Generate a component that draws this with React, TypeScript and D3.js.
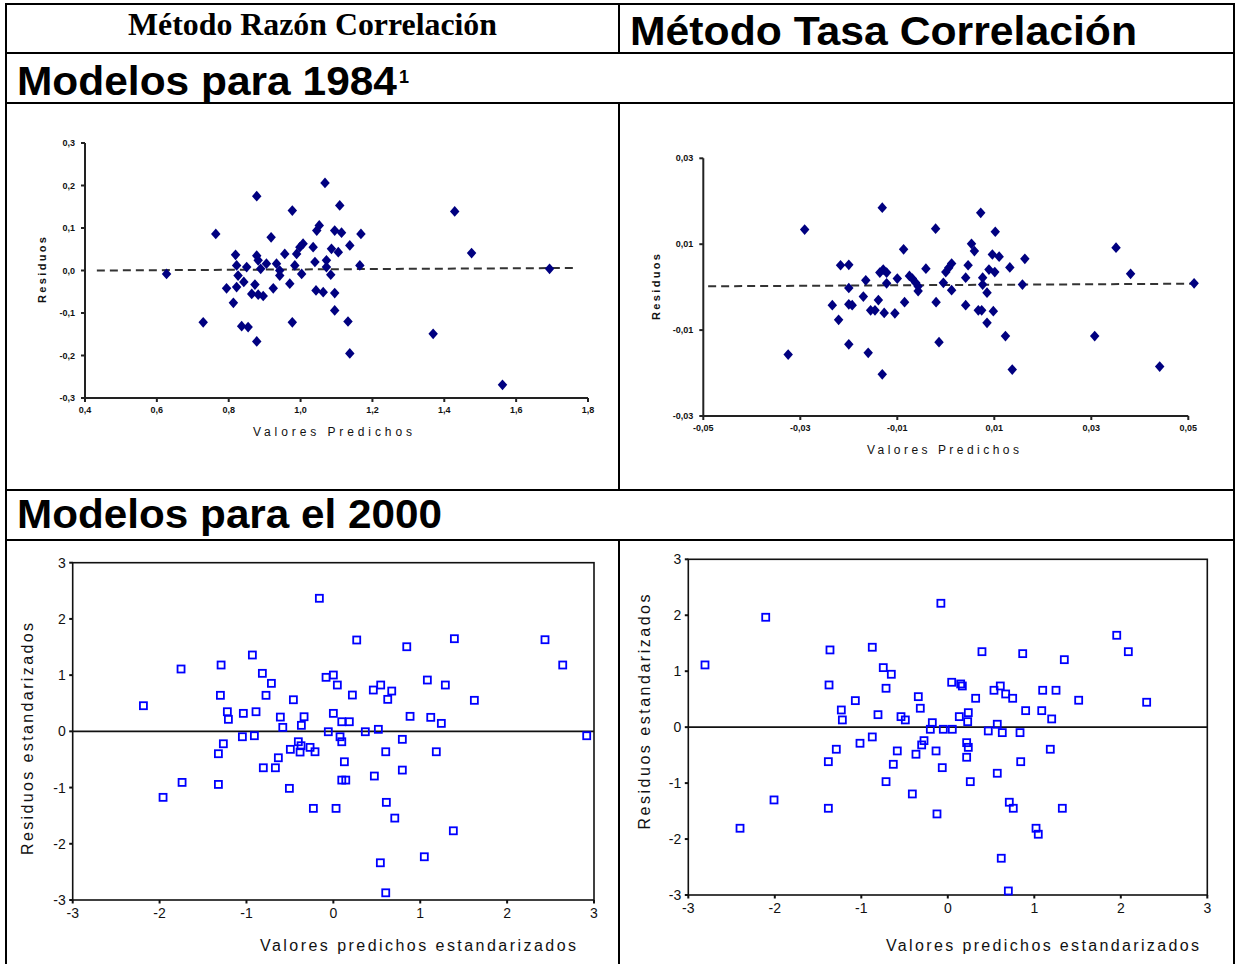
import React from "react";
import * as d3 from "d3";

type Pt = [number, number];

// Modelos 1984 - método razón (valores predichos, residuos)
const razon1984: Pt[] = [
  [0.627, -0.008], [0.764, 0.086], [0.729, -0.122], [0.878, 0.175], [0.977, 0.141], [1.068, 0.206],
  [1.109, 0.153], [0.918, 0.078], [0.819, 0.037], [0.822, 0.012], [0.794, -0.042], [0.822, -0.039],
  [0.813, -0.076], [0.842, -0.027], [0.826, -0.012], [0.85, 0.008], [0.878, 0.035], [0.882, 0.024],
  [0.873, -0.033], [0.864, -0.055], [0.882, -0.057], [0.896, -0.06], [0.889, 0.004], [0.905, 0.016],
  [0.924, -0.042], [0.933, 0.016], [0.942, 0.0], [0.942, -0.012], [0.956, 0.039], [0.97, -0.031],
  [0.984, 0.012], [0.989, 0.039], [0.998, 0.055], [1.003, -0.008], [1.007, 0.063], [0.836, -0.131],
  [0.854, -0.133], [0.878, -0.167], [0.977, -0.122], [1.035, 0.055], [1.04, 0.02], [1.045, 0.094],
  [1.052, 0.106], [1.043, -0.047], [1.063, -0.051], [1.072, 0.024], [1.086, 0.051], [1.084, -0.01],
  [1.095, 0.094], [1.095, -0.053], [1.095, -0.094], [1.072, 0.008], [1.114, 0.089], [1.168, 0.086],
  [1.105, 0.043], [1.137, 0.059], [1.165, 0.012], [1.132, -0.12], [1.137, -0.195], [1.429, 0.139],
  [1.476, 0.041], [1.369, -0.149], [1.562, -0.269], [1.693, 0.004],
];
const razon1984Linea: Pt[] = [[0.433, 0.0], [1.77, 0.006]];
const razon1984XTicks = [0.4, 0.6, 0.8, 1.0, 1.2, 1.4, 1.6, 1.8];
const razon1984YTicks = [-0.3, -0.2, -0.1, 0, 0.1, 0.2, 0.3];

// Modelos 1984 - método tasa
const tasa1984: Pt[] = [
  [-0.0291, 0.0134], [-0.0131, 0.0185], [-0.0325, -0.0157], [-0.0217, 0.0051], [-0.02, 0.0052],
  [-0.0234, -0.0042], [-0.0221, -0.0076], [-0.02, -0.0002], [-0.02, -0.004], [-0.0193, -0.0042],
  [-0.02, -0.0133], [-0.016, -0.0153], [-0.0131, -0.0203], [-0.017, -0.0022], [-0.0165, 0.0016],
  [-0.0155, -0.0054], [-0.0146, -0.0054], [-0.0139, -0.003], [-0.0136, 0.0034], [-0.0129, 0.0041],
  [-0.0122, 0.0034], [-0.0122, 0.0009], [-0.0127, -0.006], [-0.0105, -0.0061], [-0.01, 0.002],
  [-0.0087, 0.0088], [-0.0085, -0.0035], [-0.0075, 0.0026], [-0.0069, 0.002], [-0.0062, 0.001],
  [-0.0057, 0.0002], [-0.0057, -0.0009], [-0.0041, 0.0043], [-0.0021, 0.0136], [-0.002, -0.0035],
  [-0.0014, -0.0128], [-0.0005, 0.001], [0.0, 0.0035], [0.0006, 0.0045], [0.0012, 0.0055],
  [0.0012, -0.0007], [0.0041, -0.0042], [0.0041, 0.0022], [0.0046, 0.0051], [0.0053, 0.0101],
  [0.0059, 0.0084], [0.0072, 0.0173], [0.0067, -0.0054], [0.0074, -0.0054], [0.0076, 0.0022],
  [0.0076, 0.0006], [0.0085, -0.0013], [0.0085, -0.0083], [0.0089, 0.0041], [0.0096, 0.0076],
  [0.0098, -0.0056], [0.0101, 0.0035], [0.0102, 0.0129], [0.011, 0.0071], [0.0123, -0.0114],
  [0.0132, 0.0046], [0.0137, -0.0192], [0.0158, 0.0006], [0.0163, 0.0066], [0.0307, -0.0114],
  [0.0351, 0.0092], [0.0381, 0.0031], [0.0441, -0.0185], [0.0512, 0.0009],
];
const tasa1984Linea: Pt[] = [[-0.049, 0.0002], [0.051, 0.0008]];
const tasa1984XTicks = [-0.05, -0.03, -0.01, 0.01, 0.03, 0.05];
const tasa1984YTicks = [-0.03, -0.01, 0.01, 0.03];

// Modelos 2000 - valores estandarizados
const razon2000: Pt[] = [
  [-2.186, 0.456], [-1.96, -1.174], [-1.753, 1.109], [-1.741, -0.908], [-1.323, -0.398], [-1.323, -0.944],
  [-1.3, 0.641], [-1.292, 1.18], [-1.266, -0.221], [-1.22, 0.349], [-1.208, 0.214], [-1.036, 0.32],
  [-1.047, -0.096], [-0.932, 1.358], [-0.909, -0.078], [-0.89, 0.349], [-0.817, 1.032], [-0.806, -0.648],
  [-0.775, 0.641], [-0.713, 0.854], [-0.667, -0.648], [-0.633, -0.47], [-0.61, 0.254], [-0.582, 0.071],
  [-0.506, -1.014], [-0.495, -0.32], [-0.46, 0.562], [-0.403, -0.185], [-0.383, -0.368], [-0.368, 0.107],
  [-0.337, 0.26], [-0.372, -0.256], [-0.268, -0.285], [-0.211, -0.363], [-0.23, -1.37], [-0.161, 2.367],
  [-0.084, 0.961], [-0.058, -0.007], [0.269, 1.625], [0.0, 1.002], [0.046, 0.824], [0.219, 0.646],
  [0.0, 0.32], [0.097, 0.171], [0.184, 0.171], [0.077, -0.096], [0.097, -0.185], [0.127, -0.541],
  [0.097, -0.867], [0.143, -0.867], [0.031, -1.37], [0.368, -0.007], [0.46, 0.735], [0.545, 0.824],
  [0.518, 0.036], [0.672, 0.717], [0.626, 0.569], [0.603, -0.363], [0.472, -0.795], [0.61, -1.263],
  [0.707, -1.543], [0.541, -2.338], [0.603, -2.872], [0.794, -0.142], [0.794, -0.689], [0.845, 1.505],
  [0.883, 0.267], [1.082, 0.913], [1.121, 0.249], [1.047, -2.231], [1.185, -0.363], [1.243, 0.142],
  [1.289, 0.824], [1.393, 1.648], [1.381, -1.769], [1.623, 0.552], [2.436, 1.63], [2.64, 1.18],
  [2.916, -0.078],
];
const tasa2000: Pt[] = [
  [-2.807, 1.112], [-2.105, 1.964], [-2.009, -1.301], [-2.402, -1.807], [-1.362, 1.38], [-1.373, 0.754],
  [-1.381, -0.617], [-1.381, -1.45], [-1.289, -0.395], [-1.231, 0.307], [-1.219, 0.129], [-1.069, 0.474],
  [-1.015, -0.288], [-0.873, 1.428], [-0.873, -0.175], [-0.807, 0.223], [-0.746, 1.064], [-0.714, -0.974],
  [-0.714, 0.695], [-0.653, 0.945], [-0.63, -0.664], [-0.584, -0.425], [-0.541, 0.188], [-0.491, 0.129],
  [-0.41, -1.194], [-0.368, -0.484], [-0.341, 0.545], [-0.318, 0.338], [-0.302, -0.318], [-0.275, -0.241],
  [-0.202, -0.038], [-0.179, 0.08], [-0.136, -0.425], [-0.125, -1.551], [-0.08, 2.214], [-0.064, -0.724],
  [-0.052, -0.038], [0.045, 0.802], [0.052, -0.038], [0.133, 0.188], [0.149, 0.772], [0.168, 0.736],
  [0.218, -0.277], [0.23, 0.098], [0.237, 0.259], [0.237, -0.361], [0.218, -0.538], [0.26, -0.974],
  [0.322, 0.516], [0.395, 1.349], [0.468, -0.068], [0.534, 0.659], [0.572, 0.052], [0.572, -0.824],
  [0.607, 0.736], [0.63, -0.098], [0.618, -2.343], [0.669, 0.593], [0.711, -1.342], [0.757, -1.45],
  [0.7, -2.928], [0.75, 0.516], [0.835, -0.098], [0.843, -0.617], [0.866, 1.314], [0.9, 0.295],
  [1.02, -1.807], [1.046, -1.914], [1.086, 0.295], [1.097, 0.659], [1.185, -0.395], [1.201, 0.147],
  [1.251, 0.659], [1.347, 1.206], [1.324, -1.45], [1.513, 0.481], [1.953, 1.642], [2.087, 1.349],
  [2.299, 0.445],
];
const estTicks = [-3, -2, -1, 0, 1, 2, 3];

const coma = (dec: number) => (v: number) => v.toFixed(dec).replace(".", ",");

// grafico estilo excel (rombos azul marino y linea discontinua)
function PlotExcel(props: any) {
  const { datos, linea, xDom, xRan, yDom, yRan, xTicks, yTicks, dec, resX, resY, valX, valY, valLen } = props;
  const x = d3.scaleLinear().domain(xDom).range(xRan);
  const y = d3.scaleLinear().domain(yDom).range(yRan);
  const fmt = coma(dec);
  const rombo = d3.symbol(d3.symbolDiamond, 46)() as string;
  const x0 = xRan[0];
  const y0 = yRan[0];
  return (
    <g fontFamily="Liberation Sans, Arial, sans-serif" fill="#111">
      {yTicks.map((t: number) => (
        <g key={"y" + t}>
          <line x1={x0 - 4} x2={x0} y1={y(t)} y2={y(t)} stroke="#222" strokeWidth={2} />
          <text x={x0 - 10} y={y(t) + 3} fontSize={9} fontWeight="bold" textAnchor="end">{fmt(t)}</text>
        </g>
      ))}
      {xTicks.map((t: number) => (
        <g key={"x" + t}>
          <line x1={x(t)} x2={x(t)} y1={y0} y2={y0 + 4} stroke="#222" strokeWidth={2} />
          <text x={x(t)} y={y0 + 15} fontSize={9} fontWeight="bold" textAnchor="middle">{fmt(t)}</text>
        </g>
      ))}
      <line x1={x0} x2={x0} y1={yRan[1]} y2={y0 + 1} stroke="#222" strokeWidth={2} />
      <line x1={x0} x2={xRan[1]} y1={y0} y2={y0} stroke="#222" strokeWidth={2} />
      <line x1={x(linea[0][0])} y1={y(linea[0][1])} x2={x(linea[1][0])} y2={y(linea[1][1])}
        stroke="#333" strokeWidth={2} strokeDasharray="8,5" />
      {datos.map((d: Pt, i: number) => (
        <path key={i} d={rombo} fill="#000080"
          transform={`translate(${x(d[0])},${y(d[1])}) scale(1.3,0.85)`} />
      ))}
      <text transform={`translate(${resX},${resY}) rotate(-90)`} fontSize={11} fontWeight="bold"
        textAnchor="middle" textLength={66} lengthAdjust="spacing">Residuos</text>
      <text x={valX} y={valY} fontSize={12} textAnchor="middle" textLength={valLen}
        lengthAdjust="spacing">Valores Predichos</text>
    </g>
  );
}

// grafico estilo spss (cuadrados azules vacios, marco completo)
function PlotSpss(props: any) {
  const { datos, xRan, yRan, resX, resY, resLen, valX, valLen } = props;
  const x = d3.scaleLinear().domain([-3, 3]).range(xRan);
  const y = d3.scaleLinear().domain([-3, 3]).range(yRan);
  const lado = 7;
  return (
    <g fontFamily="Liberation Sans, Arial, sans-serif" fill="#111">
      <rect x={xRan[0]} y={yRan[1]} width={xRan[1] - xRan[0]} height={yRan[0] - yRan[1]}
        fill="none" stroke="#111" strokeWidth={1.6} />
      <line x1={xRan[0]} x2={xRan[1]} y1={y(0)} y2={y(0)} stroke="#111" strokeWidth={1.6} />
      {estTicks.map((t) => (
        <g key={t}>
          <line x1={xRan[0] - 3.5} x2={xRan[0]} y1={y(t)} y2={y(t)} stroke="#111" strokeWidth={2} />
          <text x={xRan[0] - 7} y={y(t) + 5} fontSize={14} textAnchor="end">{t}</text>
          <line x1={x(t)} x2={x(t)} y1={yRan[0]} y2={yRan[0] + 3.5} stroke="#111" strokeWidth={2} />
          <text x={x(t)} y={yRan[0] + 18} fontSize={14} textAnchor="middle">{t}</text>
        </g>
      ))}
      {datos.map((d: Pt, i: number) => (
        <rect key={i} x={x(d[0]) - lado / 2} y={y(d[1]) - lado / 2} width={lado} height={lado}
          fill="none" stroke="#0000ff" strokeWidth={1.8} />
      ))}
      <text transform={`translate(${resX},${resY}) rotate(-90)`} fontSize={16} textAnchor="middle"
        textLength={resLen} lengthAdjust="spacing">Residuos estandarizados</text>
      <text x={valX} y={951} fontSize={16} textAnchor="middle" textLength={valLen}
        lengthAdjust="spacing">Valores predichos estandarizados</text>
    </g>
  );
}

export default function App() {
  const borde = { stroke: "#000", strokeWidth: 2 };
  return (
    <svg width={1236} height={964} viewBox="0 0 1236 964"
      style={{ position: "absolute", left: 0, top: 0, background: "#fff" }}>
      <rect x={0} y={0} width={1236} height={964} fill="#fff" />
      {/* tabla */}
      <line x1={5} x2={1235} y1={4} y2={4} {...borde} />
      <line x1={5} x2={1235} y1={53} y2={53} {...borde} />
      <line x1={5} x2={1235} y1={103} y2={103} {...borde} />
      <line x1={5} x2={1235} y1={490} y2={490} {...borde} />
      <line x1={5} x2={1235} y1={540} y2={540} {...borde} />
      <line x1={6} x2={6} y1={3} y2={964} {...borde} />
      <line x1={1234} x2={1234} y1={3} y2={964} {...borde} />
      <line x1={619} x2={619} y1={4} y2={53} {...borde} />
      <line x1={619} x2={619} y1={103} y2={490} {...borde} />
      <line x1={619} x2={619} y1={540} y2={964} {...borde} />

      <text x={312.5} y={35} fontFamily="Liberation Serif, Times New Roman, serif" fontWeight="bold"
        fontSize={31} textAnchor="middle" textLength={369} lengthAdjust="spacingAndGlyphs">Método Razón Correlación</text>
      <text x={630} y={45} fontFamily="Liberation Sans, Arial, sans-serif" fontWeight="bold"
        fontSize={40} textLength={507} lengthAdjust="spacingAndGlyphs">Método Tasa Correlación</text>
      <text x={17} y={95} fontFamily="Liberation Sans, Arial, sans-serif" fontWeight="bold"
        fontSize={40} textLength={380} lengthAdjust="spacingAndGlyphs">Modelos para 1984</text>
      <text x={399} y={83} fontFamily="Liberation Sans, Arial, sans-serif" fontWeight="bold"
        fontSize={18}>1</text>
      <text x={17} y={528} fontFamily="Liberation Sans, Arial, sans-serif" fontWeight="bold"
        fontSize={40} textLength={425} lengthAdjust="spacingAndGlyphs">Modelos para el 2000</text>

      <PlotExcel datos={razon1984} linea={razon1984Linea} xDom={[0.4, 1.8]} xRan={[85, 588]}
        yDom={[-0.3, 0.3]} yRan={[398, 143]} xTicks={razon1984XTicks} yTicks={razon1984YTicks} dec={1}
        resX={46} resY={270} valX={332.5} valY={436} valLen={159} />
      <PlotExcel datos={tasa1984} linea={tasa1984Linea} xDom={[-0.05, 0.05]} xRan={[703.3, 1188.3]}
        yDom={[-0.03, 0.03]} yRan={[416, 158.3]} xTicks={tasa1984XTicks} yTicks={tasa1984YTicks} dec={2}
        resX={660} resY={287} valX={943} valY={454} valLen={152} />

      <PlotSpss datos={razon2000} xRan={[72.7, 594]} yRan={[900, 562.7]}
        resX={33} resY={739} resLen={232} valX={418} valLen={316} />
      <PlotSpss datos={tasa2000} xRan={[688.3, 1207.3]} yRan={[895, 559.3]}
        resX={650} resY={712} resLen={235} valX={1042.5} valLen={313} />
    </svg>
  );
}
